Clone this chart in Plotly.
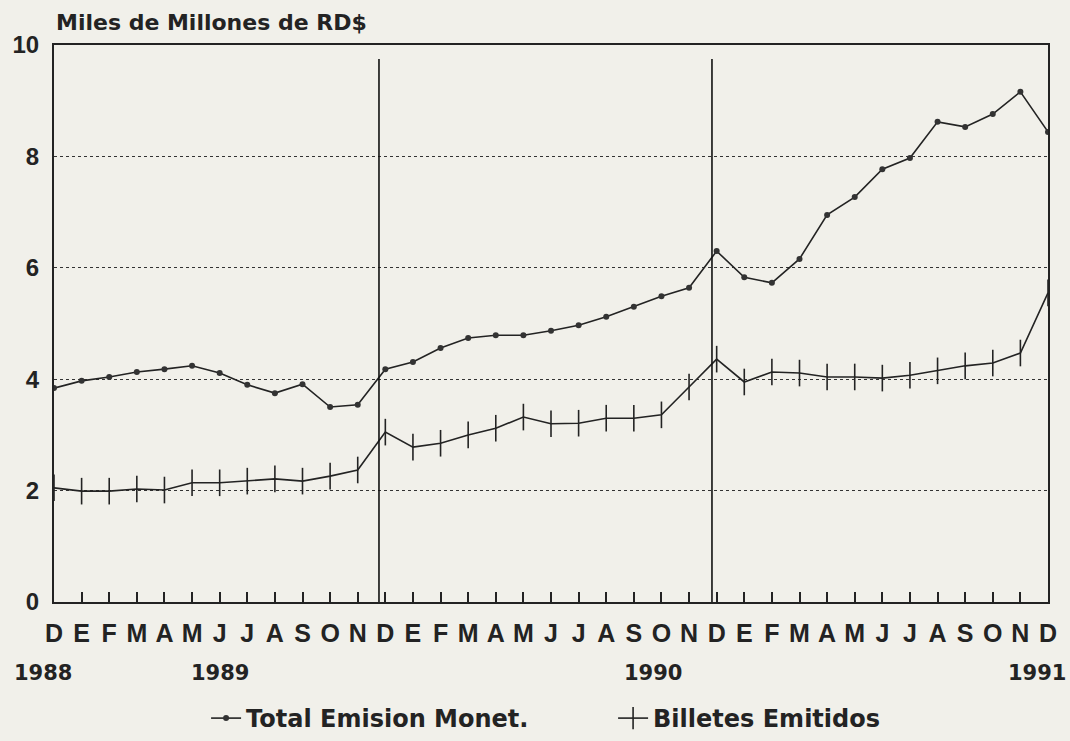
import plotly.graph_objects as go

months = ["D","E","F","M","A","M","J","J","A","S","O","N",
          "D","E","F","M","A","M","J","J","A","S","O","N",
          "D","E","F","M","A","M","J","J","A","S","O","N","D"]
total_emision = [3.84, 3.97, 4.04, 4.13, 4.18, 4.24, 4.11, 3.90, 3.75, 3.91, 3.50, 3.54,
                 4.18, 4.31, 4.56, 4.74, 4.79, 4.79, 4.87, 4.97, 5.12, 5.30, 5.49, 5.64,
                 6.30, 5.83, 5.73, 6.16, 6.95, 7.27, 7.77, 7.97, 8.62, 8.53, 8.76, 9.16, 8.44]
billetes = [2.05, 1.99, 1.99, 2.03, 2.01, 2.14, 2.14, 2.17, 2.21, 2.17, 2.26, 2.37,
            3.05, 2.78, 2.85, 3.00, 3.12, 3.32, 3.20, 3.21, 3.30, 3.30, 3.36, 3.86,
            4.36, 3.95, 4.13, 4.11, 4.04, 4.04, 4.02, 4.07, 4.15, 4.24, 4.29, 4.47, 5.55]
year_labels = ["1988", "1989", "1990", "1991"]
year_pos = [-0.4, 6.0, 21.7, 35.6]
yticks = [0, 2, 4, 6, 8, 10]
divider_pos = [11.77, 23.83]

x = list(range(len(months)))
FONT = "Liberation Sans, Arial, sans-serif"
WIDE = "DejaVu Sans, Verdana, sans-serif"
INK = "#232323"
PAPER = "#f1f0ea"

fig = go.Figure()
fig.add_trace(go.Scatter(
    x=x, y=total_emision, mode="lines+markers", name="<b>Total Emision Monet.</b>",
    line=dict(color=INK, width=1.6),
    marker=dict(symbol="circle", size=6, color="#333"),
))
fig.add_trace(go.Scatter(
    x=x, y=billetes, mode="lines+markers", name="<b>Billetes Emitidos</b>",
    line=dict(color=INK, width=1.6),
    marker=dict(symbol="line-ns", size=19, color=INK, line=dict(width=1.6, color=INK)),
))

for d in divider_pos:
    fig.add_shape(type="line", xref="x", yref="y", x0=d, x1=d, y0=0, y1=9.75,
                  line=dict(color="#111", width=1.6))

n = len(months) - 1
plot_top, plot_bottom = 45, 602
year_row_px = 673
for lab, p in zip(year_labels, year_pos):
    fig.add_annotation(x=p / n, y=(plot_bottom - year_row_px) / (plot_bottom - plot_top),
                       xref="paper", yref="paper", xanchor="center", yanchor="middle",
                       text="<b>%s</b>" % lab,
                       showarrow=False, font=dict(family=WIDE, size=21, color=INK))

fig.add_annotation(x=0, y=1.0, xref="paper", yref="paper", xanchor="left", yanchor="bottom",
                   yshift=8, text="<b>Miles de Millones de RD$</b>", showarrow=False,
                   font=dict(family=WIDE, size=22, color=INK))

fig.update_layout(
    width=1070, height=741, autosize=False,
    margin=dict(l=54, r=22, t=45, b=139),
    paper_bgcolor=PAPER, plot_bgcolor=PAPER,
    font=dict(family=FONT, color=INK),
    showlegend=True,
    legend=dict(orientation="h", x=0.153, xanchor="left", xref="paper",
                y=0.0, yanchor="bottom", yref="container",
                font=dict(family=WIDE, size=24, color=INK), bgcolor="rgba(0,0,0,0)",
                entrywidth=362, entrywidthmode="pixels", tracegroupgap=0),
)
fig.update_xaxes(
    range=[0, n], tickvals=x, ticktext=["<b>%s</b>" % m for m in months],
    tickfont=dict(family=FONT, size=25, color=INK),
    showline=True, linecolor=INK, linewidth=2, mirror=True,
    ticks="inside", ticklen=10, tickcolor=INK, tickwidth=1.5,
    showgrid=False, zeroline=False, ticklabelstandoff=8,
)
fig.update_yaxes(
    range=[0, 10], tickvals=yticks, ticktext=["<b>%d</b>" % v for v in yticks],
    tickfont=dict(family=FONT, size=24, color=INK),
    showline=True, linecolor=INK, linewidth=2, mirror=True,
    showgrid=True, gridcolor="#333", gridwidth=1, griddash="dot",
    zeroline=False, ticks="", ticklabelstandoff=8,
)

fig.write_html("out.html", config={"displayModeBar": False},
               post_script="document.body.style.margin='0px';document.body.style.background='%s';" % PAPER)
